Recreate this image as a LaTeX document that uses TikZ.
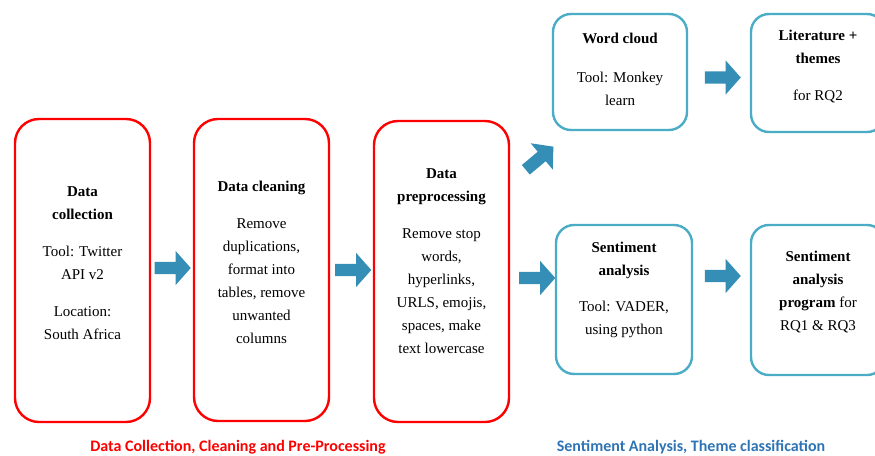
\documentclass[tikz,border=0pt]{standalone}
\usepackage{fontspec}
\newfontfamily\libfile{LiberationSerif}[Extension=.ttf, UprightFont=*-Regular, BoldFont=*-Bold]
\newfontfamily\capfont{Carlito}
\usetikzlibrary{shapes.arrows,calc}
\definecolor{boxred}{HTML}{FF0000}
\definecolor{boxteal}{HTML}{4BACC6}
\definecolor{arrowc}{RGB}{52,142,182}
\definecolor{capblue}{HTML}{2E74B5}
\begin{document}
\begin{tikzpicture}[x=1pt,y=-1pt,
  redbox/.style={draw=boxred, line width=2.4pt, rounded corners=24pt, inner sep=0pt},
  tealbox/.style={draw=boxteal, line width=2.4pt, rounded corners=18pt, inner sep=0pt},
  txt/.style={align=center, font=\libfile\fontsize{15}{23}\selectfont, inner sep=0pt},
  barrow/.style={single arrow, fill=arrowc, draw=none, inner xsep=0pt, inner ysep=6pt,
    single arrow head extend=11pt, single arrow tip angle=97, minimum height=36pt},
  captxt/.style={font=\capfont\bfseries\fontsize{16}{19}\selectfont, inner sep=0pt}
]
\useasboundingbox (0,0) rectangle (875,455);
% red boxes
\node[redbox, minimum width=135pt, minimum height=303pt] (b1) at (82.5,270.5) {};
\node[redbox, minimum width=135pt, minimum height=302pt] (b2) at (261.5,270) {};
\node[redbox, minimum width=135pt, minimum height=301pt] (b3) at (441.5,271.5) {};
% teal boxes
\node[tealbox, minimum width=134pt, minimum height=116pt] (wc) at (620,72) {};
\node[tealbox, minimum width=134pt, minimum height=118pt] (lit) at (818,73) {};
\node[tealbox, minimum width=136pt, minimum height=149pt] (sa) at (624,299.5) {};
\node[tealbox, minimum width=134pt, minimum height=150pt] (sp) at (818,300) {};
% texts
\node[txt] (t1) at (82.5,263.5) {\textbf{Data}\\\textbf{collection}\\[14pt]Tool: Twitter\\API v2\\[14pt]Location:\\South Africa};
\node[txt] (t2) at (261.5,262) {\textbf{Data cleaning}\\[14pt]Remove\\duplications,\\format into\\tables, remove\\unwanted\\columns};
\node[txt] (t3) at (441.5,261.5) {\textbf{Data}\\\textbf{preprocessing}\\[14pt]Remove stop\\words,\\hyperlinks,\\URLS, emojis,\\spaces, make\\text lowercase};
\node[txt] (t4) at (620,69) {\textbf{Word cloud}\\[16pt]Tool: Monkey\\learn};
\node[txt] (t5) at (818,66.5) {\textbf{Literature +}\\\textbf{themes}\\[14pt]for RQ2};
\node[txt] (t6) at (624,290) {\textbf{Sentiment}\\\textbf{analysis}\\[13pt]Tool: VADER,\\using python};
\node[txt] (t7) at (818,292) {\textbf{Sentiment}\\\textbf{analysis}\\\textbf{program} for\\RQ1 \& RQ3};
% block arrows
\node[barrow] (a1) at (170,268) {};
\node[barrow] (a2) at (350.5,270) {};
\node[barrow] (a3) at (534.5,278) {};
\node[barrow, rotate=40] (a4) at (537.5,160) {};
\node[barrow] (a5) at (720,77.5) {};
\node[barrow] (a6) at (720,276) {};
% captions
\node[captxt, text=boxred] (c1) at (238,447) {Data Collection, Cleaning and Pre-Processing};
\node[captxt, text=capblue] (c2) at (691,447) {Sentiment Analysis, Theme classification};
\end{tikzpicture}
\end{document}
